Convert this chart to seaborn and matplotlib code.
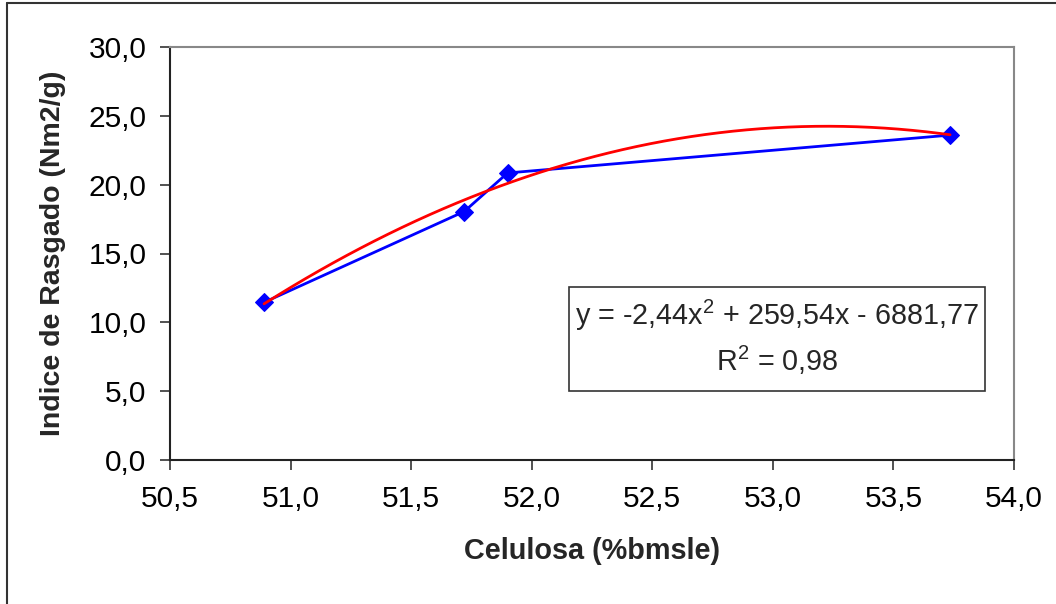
import numpy as np
import pandas as pd
import matplotlib
matplotlib.use("Agg")
import matplotlib.pyplot as plt
import seaborn as sns
from matplotlib.patches import Rectangle
from matplotlib.lines import Line2D

# Data
celulosa = [50.89, 51.72, 51.90, 53.735]
rasgado = [11.45, 18.05, 20.85, 23.6]
x_ticks = [50.5, 51.0, 51.5, 52.0, 52.5, 53.0, 53.5, 54.0]
y_ticks = [0, 5, 10, 15, 20, 25, 30]
equation_line = "y = -2,44x$^2$ + 259,54x - 6881,77"
r2_line = "R$^2$ = 0,98"

sns.set_theme(style="white")
plt.rcParams['font.family'] = ['Liberation Sans', 'DejaVu Sans']
plt.rcParams['mathtext.fontset'] = 'custom'
plt.rcParams['mathtext.rm'] = 'Liberation Sans'
plt.rcParams['mathtext.it'] = 'Liberation Sans'
plt.rcParams['mathtext.bf'] = 'Liberation Sans:bold'
plt.rcParams['mathtext.default'] = 'regular'

fig = plt.figure(figsize=(10.56, 6.04), dpi=100)
ax = fig.add_axes([170/1056, 1-460/604, (1014-170)/1056, (460-47)/604])

df = pd.DataFrame({"x": celulosa, "y": rasgado})

# polynomial trendline (order 2) fitted to the data
coef = np.polyfit(celulosa, rasgado, 2)
xs = np.linspace(min(celulosa), max(celulosa), 200)
trend = pd.DataFrame({"x": xs, "y": np.polyval(coef, xs)})

sns.lineplot(data=df, x="x", y="y", ax=ax, color="#0000FF", lw=2,
             marker="D", markersize=9, markeredgecolor="#0000FF", zorder=3)
sns.lineplot(data=trend, x="x", y="y", ax=ax, color="#FF0000", lw=2, zorder=4)

ax.set_xlim(50.5, 54.0)
ax.set_ylim(0, 30)
ax.set_xticks(x_ticks)
ax.set_yticks(y_ticks)
ax.set_xticklabels([f"{v:.1f}".replace(".", ",") for v in x_ticks])
ax.set_yticklabels([f"{v:.1f}".replace(".", ",") for v in y_ticks])
ax.tick_params(axis="both", direction="out", length=7, width=1.2, color="#333333",
               labelsize=21.5, labelcolor="black", bottom=True, left=True)
ax.tick_params(axis="x", pad=11)
ax.tick_params(axis="y", pad=10)

for s in ["left", "bottom"]:
    ax.spines[s].set_color("#222222")
    ax.spines[s].set_linewidth(1.5)
for s in ["top", "right"]:
    ax.spines[s].set_color("#888888")
    ax.spines[s].set_linewidth(1.5)

ax.set_xlabel("Celulosa (%bmsle)", fontsize=20.8, fontweight="bold", labelpad=17)
ax.set_ylabel("Indice de Rasgado (Nm2/g)", fontsize=20.5, fontweight="bold", labelpad=16)

# trendline equation box
ax.add_patch(Rectangle((0.4727, 0.167), 0.493, 0.252, transform=ax.transAxes,
                       fc="white", ec="#333333", lw=1.2, zorder=5))
ax.text(0.719, 0.349, equation_line, transform=ax.transAxes, ha="center", va="center",
        fontsize=20.7, zorder=6)
ax.text(0.719, 0.242, r2_line, transform=ax.transAxes, ha="center", va="center",
        fontsize=20.7, zorder=6)

# outer chart frame (left and top edges visible)
fig.add_artist(Line2D([7/1056, 7/1056], [0, 1-3/604], transform=fig.transFigure,
                      color="#333333", lw=1.5))
fig.add_artist(Line2D([7/1056, 1], [1-3/604, 1-3/604], transform=fig.transFigure,
                      color="#333333", lw=1.5))

fig.savefig("out.png", dpi=100)
